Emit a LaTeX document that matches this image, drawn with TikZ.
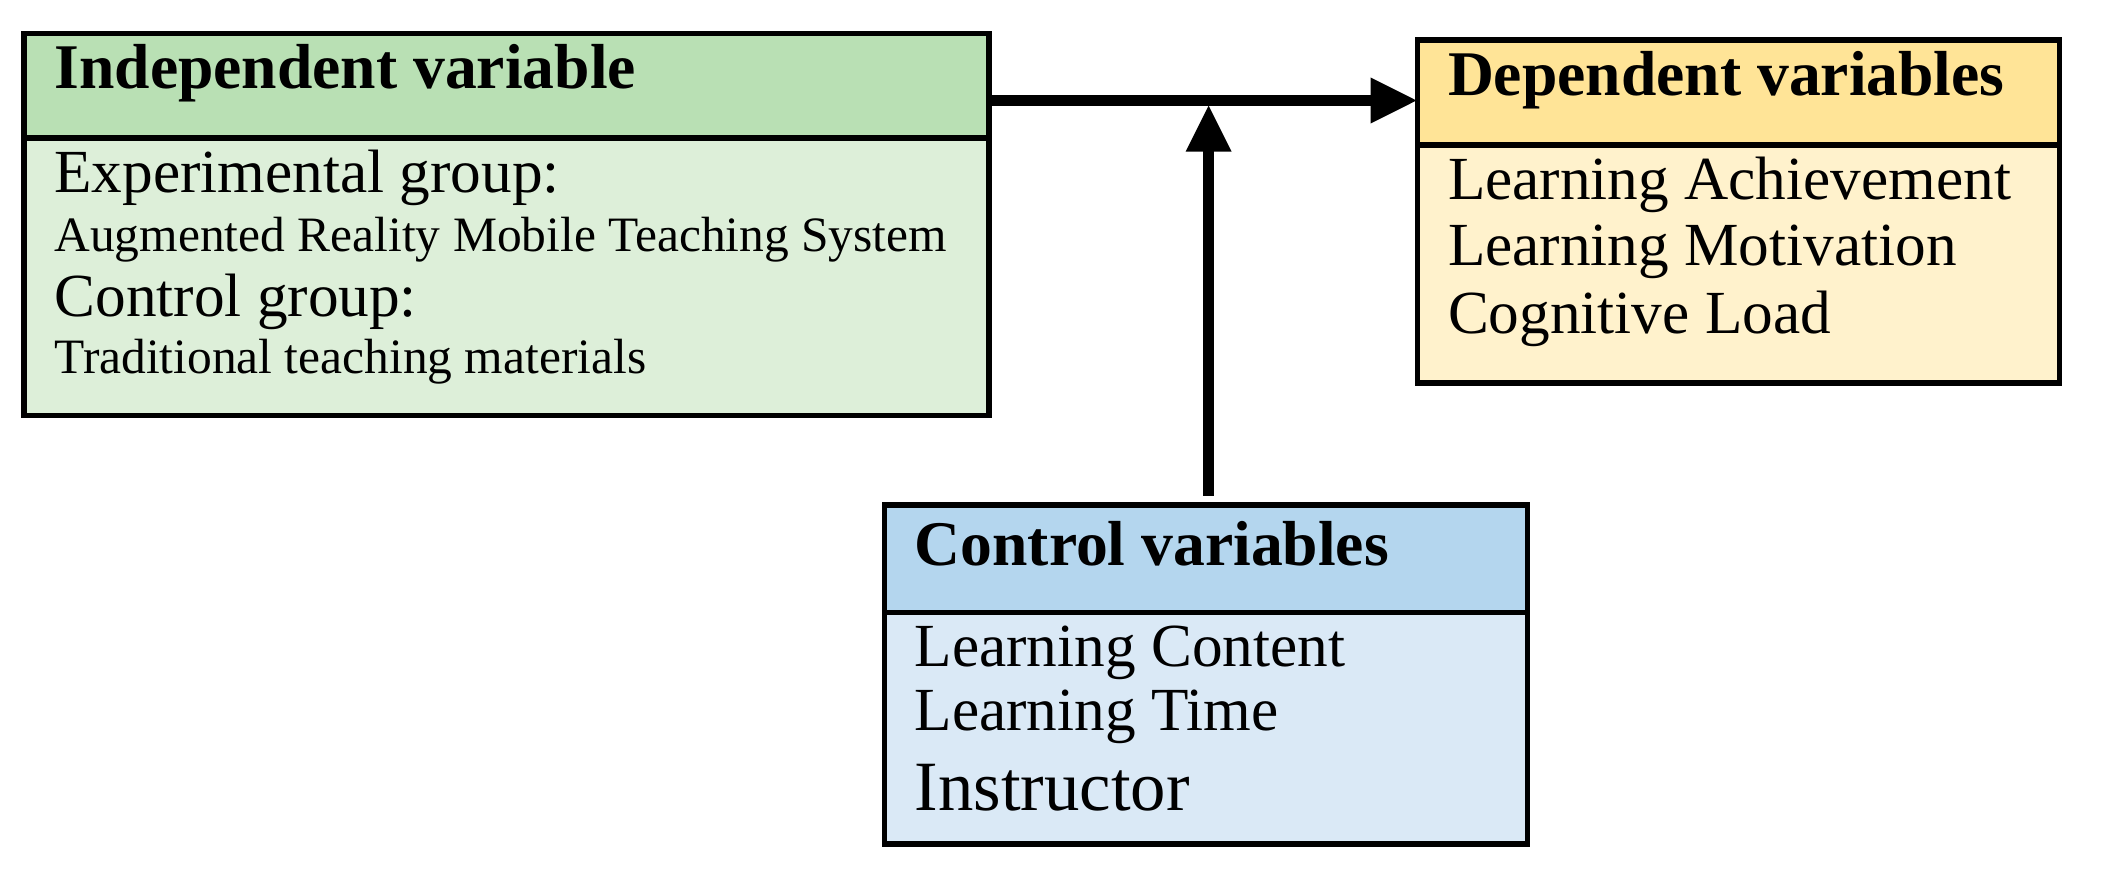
\documentclass[tikz,border=0pt]{standalone}
\usepackage{fontspec}
\setmainfont{Liberation Serif}
\usetikzlibrary{arrows.meta}
\definecolor{gH}{HTML}{B9E0B4}\definecolor{gB}{HTML}{DDEFD9}
\definecolor{yH}{HTML}{FFE497}\definecolor{yB}{HTML}{FFF2CC}
\definecolor{bH}{HTML}{B4D6EE}\definecolor{bB}{HTML}{DAE9F6}
\begin{document}
\begin{tikzpicture}[x=0.01cm,y=-0.01cm,
 box/.style={draw=black,line width=1.2pt},
 hd/.style={anchor=west,inner sep=0pt,font=\fontsize{13.5}{14}\selectfont\bfseries},
 tx/.style={anchor=west,inner sep=0pt,font=\fontsize{13}{14}\selectfont},
 sm/.style={anchor=west,inner sep=0pt,font=\fontsize{10.5}{12}\selectfont},
 arr/.style={line width=2.4pt,-{Triangle[length=10pt,width=9pt]}}]
\useasboundingbox (0,0) rectangle (1568,651);
% independent
\fill[gB] (18,103) rectangle (738,310);
\fill[gH] (18,25) rectangle (738,103);
\draw[box] (18,25) rectangle (738,310);
\draw[box] (18,103) -- (738,103);
\node[hd] (ih) at (40,55) {Independent variable};
\node[tx] (i1) at (40,133) {Experimental group:};
\node[sm] (i2) at (40,179) {Augmented Reality Mobile Teaching System};
\node[tx] (i3) at (40,225) {Control group:};
\node[sm] (i4) at (40,270) {Traditional teaching materials};
% dependent
\fill[yB] (1058,108) rectangle (1537,286);
\fill[yH] (1058,30) rectangle (1537,108);
\draw[box] (1058,30) rectangle (1537,286);
\draw[box] (1058,108) -- (1537,108);
\node[hd] (dh) at (1080,60) {Dependent variables};
\node[tx] (d1) at (1080,138) {Learning Achievement};
\node[tx] (d2) at (1080,188) {Learning Motivation};
\node[tx] (d3) at (1080,238) {Cognitive Load};
% control
\fill[bB] (660,457) rectangle (1140,630);
\fill[bH] (660,377) rectangle (1140,457);
\draw[box] (660,377) rectangle (1140,630);
\draw[box] (660,457) -- (1140,457);
\node[hd] (ch) at (682,406) {Control variables};
\node[tx] (c1) at (682,487) {Learning Content};
\node[tx] (c2) at (682,535) {Learning Time};
\node[tx,font=\fontsize{15}{16}\selectfont] (c3) at (682,588) {Instructor};
% arrows
\coordinate (a) at (738,75);
\coordinate (b) at (1058,75);
\coordinate (j) at (902,78);
\coordinate (s) at (902,370);
\draw[arr] (a) -- (b);
\draw[arr] (s) -- (j);
\end{tikzpicture}
\end{document}
